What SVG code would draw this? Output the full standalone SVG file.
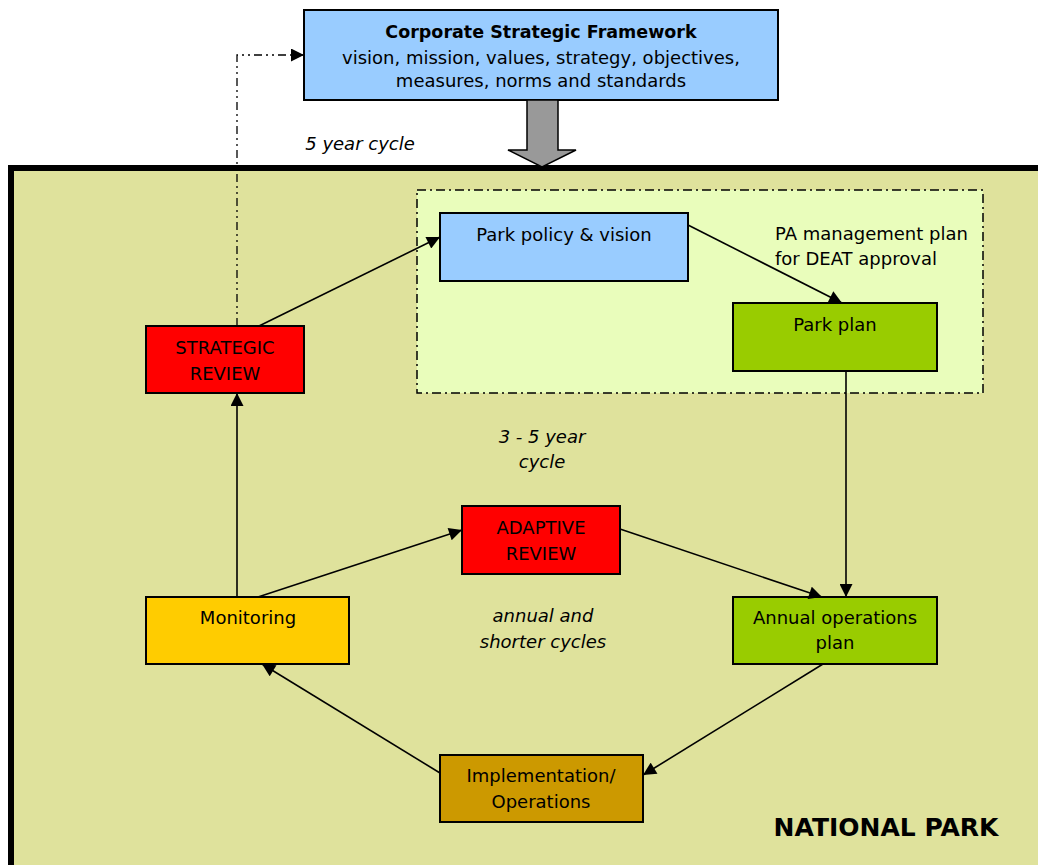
<svg xmlns="http://www.w3.org/2000/svg" width="1038" height="865" viewBox="0 0 1038 865">
<defs>
<marker id="ah" viewBox="0 0 10 10" refX="10" refY="5" markerWidth="14" markerHeight="13" markerUnits="userSpaceOnUse" orient="auto">
<path d="M0,0 L10,5 L0,10 z" fill="#000"/>
</marker>
<style>
.t{font-family:"DejaVu Sans",Verdana,sans-serif;font-size:18px;fill:#000;text-anchor:middle}
.i{font-style:italic}
.n{stroke:#000;stroke-width:2}
.c{stroke:#000;stroke-width:1.6;fill:none;marker-end:url(#ah)}
</style>
</defs>
<rect width="1038" height="865" fill="#fff"/>
<g id="national-park">
<rect x="11" y="168" width="1040" height="710" fill="#dfe29c" stroke="#000" stroke-width="6"/>
<text class="t" x="886" y="836" style="font-size:25px;font-weight:bold">NATIONAL PARK</text>
</g>
<g id="pa-plan-group">
<rect x="417" y="190" width="566" height="203" fill="#e9fdbb" stroke="#000" stroke-width="1.5" stroke-dasharray="9,4,2,4"/>
<text class="t" x="775" y="240" style="text-anchor:start">PA management plan</text>
<text class="t" x="775" y="265" style="text-anchor:start">for DEAT approval</text>
</g>
<g id="corporate">
<rect class="n" x="304" y="10" width="474" height="90" fill="#99ccff"/>
<text class="t" x="541" y="38" style="font-weight:bold;font-size:17.5px">Corporate Strategic Framework</text>
<text class="t" x="541" y="64">vision, mission, values, strategy, objectives,</text>
<text class="t" x="541" y="87">measures, norms and standards</text>
</g>
<g id="block-arrow">
<path d="M527,100 L558,100 L558,150 L576,150 L542,167 L508,150 L527,150 z" fill="#999" stroke="#000" stroke-width="1.5"/>
</g>
<g id="policy">
<rect class="n" x="440" y="213" width="248" height="68" fill="#99ccff"/>
<text class="t" x="564" y="241">Park policy &amp; vision</text>
</g>
<g id="park-plan">
<rect class="n" x="733" y="303" width="204" height="68" fill="#99cc00"/>
<text class="t" x="835" y="331">Park plan</text>
</g>
<g id="strategic">
<rect class="n" x="146" y="326" width="158" height="67" fill="#ff0000"/>
<text class="t" x="225" y="354">STRATEGIC</text>
<text class="t" x="225" y="380">REVIEW</text>
</g>
<g id="adaptive">
<rect class="n" x="462" y="506" width="158" height="68" fill="#ff0000"/>
<text class="t" x="541" y="534">ADAPTIVE</text>
<text class="t" x="541" y="560">REVIEW</text>
</g>
<g id="monitoring">
<rect class="n" x="146" y="597" width="203" height="67" fill="#ffcc00"/>
<text class="t" x="248" y="624">Monitoring</text>
</g>
<g id="annual">
<rect class="n" x="733" y="597" width="204" height="67" fill="#99cc00"/>
<text class="t" x="835" y="624">Annual operations</text>
<text class="t" x="835" y="649">plan</text>
</g>
<g id="implementation">
<rect class="n" x="440" y="755" width="203" height="67" fill="#cc9900"/>
<text class="t" x="541" y="782">Implementation/</text>
<text class="t" x="541" y="808">Operations</text>
</g>
<g id="labels">
<text class="t i" x="360" y="150">5 year cycle</text>
<text class="t i" x="542" y="443">3 - 5 year</text>
<text class="t i" x="542" y="468">cycle</text>
<text class="t i" x="543" y="622">annual and</text>
<text class="t i" x="543" y="648">shorter cycles</text>
</g>
<g id="connectors">
<path d="M237,326 L237,55 L304,55" fill="none" stroke="#000" stroke-width="1.3" stroke-dasharray="8,4,2,4,2,4" marker-end="url(#ah)"/>
<path class="c" d="M259,326 L440,237"/>
<path class="c" d="M688,225 L842,303"/>
<path class="c" d="M846,371 L846,597"/>
<path class="c" d="M620,529 L822,597"/>
<path class="c" d="M258,597 L462,530"/>
<path class="c" d="M237,597 L237,393"/>
<path class="c" d="M823,664 L643,775"/>
<path class="c" d="M440,773 L262,664"/>
</g>
</svg>
